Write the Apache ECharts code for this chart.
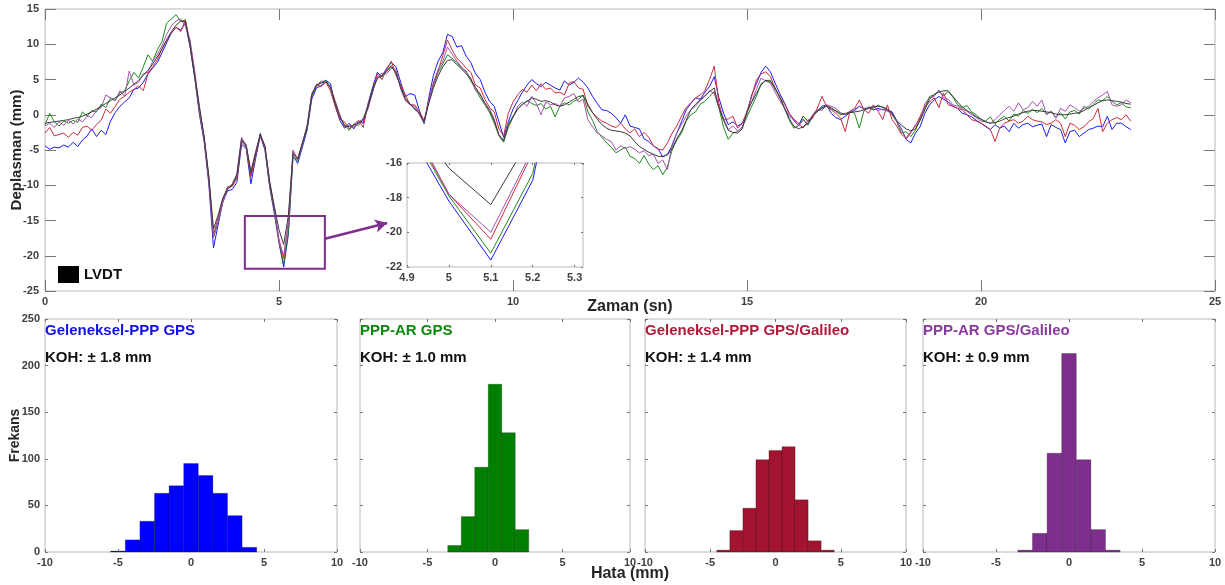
<!DOCTYPE html>
<html><head><meta charset="utf-8">
<script src="https://cdn.jsdelivr.net/npm/echarts@6/dist/echarts.min.js"></script>
<style>html,body{margin:0;padding:0;background:#fff}#c{width:1225px;height:585px}</style>
</head><body><div id="c"></div>
<script>
// ---- time series (sampling grid) ----
const timeStart = 0, timeStep = 0.1;

const lvdt = [
-1.2,-1.1,-1.0,-0.9,-0.8,-0.7,-0.5,-0.4,-0.2,0.1,
0.4,0.8,1.2,1.6,2.0,2.4,2.8,3.3,3.8,4.3,
4.9,5.6,6.3,7.2,8.2,9.3,10.6,11.8,12.7,13.3,
13.2,9.8,5.5,1.2,-3.0,-8.7,-16.2,-14.2,-11.8,-10.5,
-10.0,-8.5,-3.5,-4.5,-8.2,-5.5,-2.8,-4.5,-9.5,-13.0,
-16.3,-18.4,-14.3,-5.5,-6.3,-4.0,-1.8,2.8,4.2,4.5,
4.7,4.0,1.7,-0.2,-1.6,-1.7,-1.5,-1.2,-0.8,1.0,
3.5,5.1,5.6,6.1,6.8,6.0,3.9,2.3,1.5,0.9,
0.2,-1.0,1.6,3.8,5.5,6.8,7.7,7.8,7.1,6.5,
5.8,5.0,3.9,2.8,1.7,0.6,-0.9,-2.8,-3.7,-1.5,
-0.2,0.8,1.5,1.9,2.4,2.2,1.9,2.0,1.8,1.4,
1.2,1.4,1.8,2.2,2.6,2.7,1.5,0.3,-0.6,-1.4,
-1.9,-2.2,-2.3,-2.4,-2.6,-3.0,-3.8,-4.5,-4.9,-5.3,
-5.6,-5.9,-5.9,-5.7,-4.8,-3.4,-2.3,-0.8,0.7,1.5,
2.1,2.7,3.3,3.8,1.0,-0.8,-2.2,-2.5,-2.6,-2.0,
0.4,1.8,3.0,4.2,4.9,4.7,3.8,2.5,0.9,-0.5,
-1.6,-2.0,-1.7,-1.2,-0.2,0.5,0.9,1.2,1.0,0.5,
0.0,0.2,0.3,0.4,0.5,0.7,0.9,1.1,1.2,1.1,
0.8,0.2,-0.8,-1.5,-2.0,-2.3,-2.0,-0.8,0.7,2.2,
2.9,3.2,3.4,3.4,2.6,1.8,1.1,0.6,0.2,-0.3,
-0.6,-1.0,-1.2,-1.1,-0.9,-0.6,-0.4,-0.2,0.1,0.3,
0.5,0.6,0.6,0.5,0.4,0.3,0.1,0.0,0.0,0.1,
0.2,0.3,0.6,1.0,1.3,1.7,2.0,2.1,2.0,1.9,
1.8,1.6,1.5];

const pppGps = [
-4.4,-4.9,-4.6,-4.7,-4.3,-4.6,-3.9,-4.5,-3.6,-3.0,
-2.0,-3.1,-2.2,-2.8,-0.9,0.3,1.2,1.8,2.4,3.6,
3.8,4.6,5.8,6.6,7.4,8.8,10.2,11.6,12.4,12.0,
13.0,9.6,5.2,0.0,-3.8,-9.8,-18.9,-15.6,-12.4,-10.8,
-10.6,-9.6,-4.2,-4.8,-9.8,-6.2,-3.0,-5.0,-10.2,-14.0,
-18.2,-21.6,-17.0,-5.8,-6.9,-4.6,-2.2,2.2,3.8,4.1,
4.9,4.4,1.3,-0.8,-1.9,-1.4,-2.0,-0.9,-1.2,1.5,
3.9,6.0,5.4,6.6,7.4,6.8,4.6,2.6,3.0,2.8,
0.6,-1.3,2.4,5.6,7.6,8.8,11.4,11.1,9.6,9.8,
8.3,7.4,5.8,5.0,3.2,1.9,1.2,-1.0,-3.2,-1.0,
0.8,2.0,3.2,4.2,5.0,4.4,4.0,4.6,4.2,3.8,
3.5,4.8,4.2,4.6,5.2,4.6,3.8,2.6,1.6,0.7,
0.6,0.2,-0.4,-1.2,0.0,-1.6,-1.8,-2.0,-3.4,-3.8,
-4.4,-4.8,-6.0,-5.6,-4.4,-2.6,-1.0,0.7,1.6,2.4,
2.2,3.2,4.0,5.4,2.4,0.2,-1.4,-1.0,-1.6,-1.2,
0.2,2.8,4.4,6.0,6.9,6.1,4.5,3.0,1.7,0.2,
-0.8,-1.5,-0.2,-0.9,-0.2,0.4,1.2,1.4,0.2,-0.4,
-0.7,-0.2,0.3,0.6,1.2,0.8,1.0,0.7,0.9,0.7,
0.7,0.4,-0.9,-2.0,-3.5,-4.0,-2.6,-1.7,0.2,1.4,
2.1,2.6,2.2,1.8,1.2,0.9,0.2,0.0,-0.3,-0.8,
-1.2,-1.7,-2.1,-1.4,-1.9,-1.6,-2.4,-1.2,-1.9,-1.4,
-1.2,-1.7,-1.5,-1.3,-3.1,-1.4,-1.8,-2.1,-4.0,-2.4,
-2.2,-3.1,-2.6,-2.1,-1.9,-1.6,-1.7,-0.2,-2.1,-1.2,
-1.2,-1.7,-2.1];

const arGps = [
-1.4,0.2,-1.0,-1.6,-0.9,-1.2,-0.8,-1.1,0.4,-0.2,
0.6,0.4,1.5,1.0,2.4,2.0,3.1,3.4,4.8,6.0,
5.2,6.8,8.5,7.6,9.2,10.4,13.0,13.6,14.2,13.2,
13.5,9.8,5.4,0.4,-3.4,-9.2,-17.4,-15.2,-12.2,-10.6,
-10.0,-8.8,-3.6,-4.2,-8.6,-5.6,-2.6,-4.8,-10.0,-13.6,
-17.9,-21.2,-16.6,-5.8,-6.6,-4.2,-2.0,2.6,4.0,4.6,
4.9,3.8,1.4,-0.4,-1.4,-2.2,-1.3,-1.5,-0.5,1.2,
3.6,5.3,5.4,6.3,7.0,5.8,4.0,2.1,1.6,0.7,
0.3,-1.1,1.8,4.2,6.0,7.2,8.5,8.0,7.4,6.6,
6.2,4.8,3.6,2.4,1.4,0.3,-1.2,-3.0,-3.9,-1.8,
-0.4,0.8,1.4,2.0,1.6,1.3,1.6,0.8,1.2,-0.3,
1.2,1.7,1.4,1.9,2.2,2.8,0.4,-0.8,-2.4,-3.2,
-4.0,-4.6,-5.4,-5.0,-4.6,-5.9,-6.2,-6.9,-5.8,-7.0,
-7.8,-7.2,-8.5,-7.4,-5.0,-3.6,-2.6,-0.9,0.0,0.4,
1.5,1.9,2.6,3.3,1.0,-1.8,-3.5,-2.6,-2.4,-1.7,
-0.3,1.2,2.6,4.4,4.8,4.9,3.6,2.6,1.0,-0.7,
-1.9,-1.6,-0.6,-1.5,-0.3,0.6,1.0,1.3,0.8,0.6,
0.2,0.0,0.5,0.2,-1.9,0.6,1.1,0.9,1.4,1.0,
0.6,0.0,-1.0,-2.6,-2.4,-3.1,-2.2,-0.4,1.0,2.6,
2.8,3.4,2.7,3.3,2.5,1.4,1.0,1.3,0.4,0.0,
-0.7,-0.9,-0.3,-1.3,-0.6,-0.2,-0.9,0.1,-0.2,0.6,
0.2,0.8,0.3,0.9,0.1,0.5,-0.4,0.3,-0.6,0.4,
0.6,0.1,1.2,0.8,1.5,2.1,2.0,2.6,1.9,1.4,
1.7,1.1,1.0];

const pppGal = [
-2.6,-1.8,-3.0,-2.8,-2.6,-3.2,-2.5,-2.9,-1.8,-1.6,
-2.2,-1.4,-0.8,0.8,0.2,1.2,2.2,2.6,3.2,3.6,
4.1,3.4,5.8,6.8,7.8,9.4,10.6,11.6,12.4,11.8,
13.4,10.2,5.6,0.6,-3.4,-9.0,-17.0,-14.6,-12.0,-10.2,
-10.2,-9.0,-3.8,-4.6,-8.8,-5.8,-3.0,-4.6,-9.8,-13.4,
-17.8,-20.4,-15.4,-5.2,-6.2,-4.0,-1.6,2.9,4.3,4.0,
4.6,3.4,1.2,-0.6,-1.0,-2.0,-1.4,-0.8,-1.8,1.4,
3.2,5.8,5.0,6.4,7.6,5.6,4.2,2.8,1.4,1.4,
0.4,-0.8,2.0,4.4,6.2,8.4,10.6,9.2,8.0,7.4,
6.6,6.0,4.2,3.8,2.2,1.0,0.4,-2.0,-3.0,0.2,
1.8,2.8,3.6,3.2,4.2,3.4,4.4,3.6,3.8,3.1,
3.2,2.8,4.5,4.7,3.8,3.6,1.2,0.3,-0.4,-0.9,
-1.2,-1.6,-1.8,-1.2,-2.0,-2.6,-2.0,-3.1,-2.5,-3.2,
-4.4,-4.9,-5.0,-4.0,-2.6,-1.6,-0.2,1.0,1.7,2.4,
2.8,3.4,5.0,6.9,1.6,-0.7,-0.6,-0.2,-1.9,-1.2,
0.5,2.6,4.9,5.8,6.1,5.4,3.8,2.4,1.6,0.2,
-0.6,-1.2,-1.9,-0.8,-0.5,0.9,2.6,1.2,0.7,0.2,
-0.5,-2.4,0.5,0.9,2.1,0.7,0.2,1.4,0.5,-0.7,
1.4,-0.7,-1.6,-2.8,-3.3,-2.4,-1.6,-0.2,1.2,1.8,
2.4,1.0,3.1,1.4,1.2,0.9,0.7,0.0,-0.7,-0.9,
-1.2,-1.6,-2.1,-3.8,-1.9,-1.2,-0.9,-0.7,-1.2,-0.9,
-0.2,-0.7,-0.9,-1.0,-1.4,-1.2,-0.7,-1.2,-3.1,-1.2,
-1.5,-2.1,-1.7,-1.0,-0.5,0.9,-2.4,-1.2,-0.7,-0.4,
-0.7,0.0,-0.9];

const arGal = [
-1.6,-1.2,-1.8,-1.0,-1.5,-0.8,-1.3,-0.6,-1.0,-0.2,
-0.4,0.6,1.0,2.8,2.4,2.0,3.4,2.6,6.2,4.2,
4.6,5.8,6.0,7.6,8.6,9.8,11.4,12.6,13.3,13.6,
12.6,10.6,6.2,0.8,-3.2,-8.8,-17.4,-15.0,-12.4,-10.4,
-9.8,-8.4,-3.2,-4.4,-8.0,-5.2,-2.8,-4.4,-9.4,-13.2,
-17.8,-20.0,-15.2,-5.0,-6.4,-4.2,-1.6,3.0,4.2,4.8,
4.6,3.8,2.0,0.0,-1.8,-1.2,-1.8,-1.0,-0.6,0.8,
3.2,5.4,5.9,5.8,6.6,6.4,3.6,2.0,1.4,1.2,
0.0,-1.2,2.0,4.6,6.4,7.6,9.6,8.6,7.6,6.8,
6.0,5.2,3.4,3.0,1.4,0.8,-0.6,-3.0,-3.6,-1.2,
-0.4,1.2,1.8,1.2,2.6,1.6,0.0,1.8,1.4,1.6,
1.2,2.4,2.6,3.0,1.8,2.2,-0.7,-1.7,-2.6,-3.0,
-3.5,-3.8,-5.0,-4.4,-4.8,-4.5,-4.9,-5.4,-5.1,-5.8,
-5.6,-6.9,-6.4,-7.8,-4.2,-2.6,-1.4,-0.2,0.7,1.2,
2.0,2.6,3.4,3.0,1.0,-0.5,-2.1,-1.6,-2.3,-1.8,
0.4,1.8,3.6,5.2,4.8,4.5,3.2,2.0,1.0,-0.2,
-0.7,-1.6,-0.8,-1.3,0.0,0.8,0.6,1.4,1.2,0.9,
0.3,0.0,0.5,0.8,1.2,0.9,1.0,1.2,0.6,0.8,
0.5,0.2,-1.0,-2.1,-3.5,-2.6,-1.4,-0.8,1.6,2.4,
2.6,3.5,2.4,2.2,1.4,1.2,0.8,0.5,0.0,-0.4,
-0.9,-1.0,-1.2,-0.7,0.0,0.6,1.2,0.5,1.7,0.7,
1.0,1.9,1.2,2.1,0.0,0.5,-0.5,0.9,0.5,1.4,
1.0,0.5,0.9,1.2,1.9,2.4,2.8,3.3,1.4,1.2,
1.4,2.1,1.7];

// ---- histograms (bin centers, bin width, counts) ----
const binWidth = 1;
const histCentersA = [-5,-4,-3,-2,-1,0,1,2,3,4];
const histCountsA  = [1,13,33,63,71,95,82,63,39,5];
const histCentersB = [-3,-2,-1,0,1,2];
const histCountsB  = [7,38,91,180,128,24];
const histCentersC = [-4,-3,-2,-1,0,1,2,3,4];
const histCountsC  = [2,23,47,99,109,113,56,12,2];
const histCentersD = [-3,-2,-1,0,1,2,3];
const histCountsD  = [2,20,106,213,99,24,2];

const histTitles = ['Geleneksel-PPP GPS','PPP-AR GPS','Geleneksel-PPP GPS/Galileo','PPP-AR GPS/Galileo'];
const histKOH = ['KOH: \u00b1 1.8 mm','KOH: \u00b1 1.0 mm','KOH: \u00b1 1.4 mm','KOH: \u00b1 0.9 mm'];

// annotation (data coords): zoom box and arrow
const zoomBox = [[4.27,-14.35],[5.98,-21.85]];
const arrowLine = [[5.98,-17.6],[7.31,-15.35]];

const FONT = 'Liberation Sans, Arial, sans-serif';
const toPairs = arr => arr.map((v,i)=>[+(timeStart + i*timeStep).toFixed(2), v]);

const lineColors = {gps:'#1a1aee', ar:'#1f8a1f', gal:'#cc2b40', argal:'#a452b0', lvdt:'#3a3a3a'};
const histColors = ['#0000ff','#007f00','#a2142f','#7e2f8e'];
const titleColors = ['#1010f0','#0d8a0d','#b01a38','#8a3a9e'];

const mainGrid = {left:45, top:9, width:1170, height:282};
const insetGrid = {left:407, top:163, width:176, height:104};
const histGrids = [
  {left:45, top:319, width:292, height:233},
  {left:360, top:319, width:270, height:233},
  {left:645, top:319, width:261, height:233},
  {left:923, top:319, width:292, height:233}
];

const labelStyle = {fontSize:11, fontWeight:'bold', color:'#404040', fontFamily:FONT};
function axisX(gridIndex, min, max, interval, tickLen, extra){
  return Object.assign({type:'value', gridIndex, min, max, interval,
    axisLine:{show:false, onZero:false}, splitLine:{show:false}, nameMoveOverlap:false,
    axisTick:{show:true, inside:true, length:tickLen, lineStyle:{color:'#777'}},
    axisLabel:Object.assign({margin:5}, labelStyle)}, extra||{});
}
function mirror(a, pos){
  return Object.assign({}, a, {position:pos, axisLabel:{show:false}, name:''});
}

const grids = [mainGrid, insetGrid].concat(histGrids).map((g,i)=>Object.assign({
  show:true, borderColor:'#b8b8b8', borderWidth:1, backgroundColor:'#fff', outerBoundsMode:'none', containLabel:false}, g));

const xAxes = [], yAxes = [];
// main
const mx = axisX(0, 0, 25, 5, 11, {name:'Zaman (sn)', nameLocation:'middle', nameGap:8,
  nameTextStyle:{fontSize:16, fontWeight:'bold', color:'#262626', fontFamily:FONT}});
const my = axisX(0, -25, 15, 5, 11, {name:'Deplasman (mm)', nameLocation:'middle', nameGap:21,
  nameTextStyle:{fontSize:15, fontWeight:'bold', color:'#262626', fontFamily:FONT}});
my.axisLabel = Object.assign({margin:6}, labelStyle);
xAxes.push(mx, mirror(mx,'top'));
yAxes.push(my, mirror(my,'right'));
// inset
const ix = axisX(1, 4.9, 5.32, 0.1, 2);
ix.axisLabel = Object.assign({margin:5, showMaxLabel:false}, labelStyle);
const iy = axisX(1, -22, -16, 2, 2);
iy.axisLabel = Object.assign({margin:5}, labelStyle);
xAxes.push(ix, mirror(ix,'top'));
yAxes.push(iy, mirror(iy,'right'));
// histograms
for(let k=0;k<4;k++){
  const hx = axisX(2+k, -10, 10, 5, 3);
  const hy = axisX(2+k, 0, 250, 50, 3, k===0 ? {name:'Frekans', nameLocation:'middle', nameGap:23,
    nameTextStyle:{fontSize:14, fontWeight:'bold', color:'#262626', fontFamily:FONT}} : {});
  if(k>0) hy.axisLabel = {show:false};
  xAxes.push(hx); yAxes.push(hy);
}
for(let k=0;k<4;k++){
  xAxes.push(mirror(xAxes[4+k],'top'));
  yAxes.push(mirror(yAxes[4+k],'right'));
}

const series = [];
const lineDefs = [
  ['Geleneksel-PPP GPS', pppGps, lineColors.gps],
  ['PPP-AR GPS', arGps, lineColors.ar],
  ['Geleneksel-PPP GPS/Galileo', pppGal, lineColors.gal],
  ['PPP-AR GPS/Galileo', arGal, lineColors.argal],
  ['LVDT', lvdt, lineColors.lvdt]
];
lineDefs.forEach(([name, arr, col])=>{
  series.push({type:'line', name, data:toPairs(arr), xAxisIndex:0, yAxisIndex:0,
    symbol:'none', showSymbol:false, lineStyle:{color:col, width:1}, itemStyle:{color:col}, silent:true});
  series.push({type:'line', name:name+' (zoom)', data:toPairs(arr), xAxisIndex:2, yAxisIndex:2, clip:true,
    symbol:'none', showSymbol:false, lineStyle:{color:col, width:1}, itemStyle:{color:col}, silent:true});
});
// zoom box + arrow
series.push({type:'line', name:'box', data:[], xAxisIndex:0, yAxisIndex:0, silent:true,
  markArea:{silent:true, itemStyle:{color:'rgba(0,0,0,0)', borderColor:'#7e2f8e', borderWidth:2},
    data:[[{coord:zoomBox[0]},{coord:zoomBox[1]}]]},
  markLine:{silent:true, symbol:['none','arrow'], symbolSize:[10,12], label:{show:false},
    lineStyle:{color:'#7e2f8e', width:2.5, type:'solid'},
    data:[[{coord:arrowLine[0]},{coord:arrowLine[1]}]]}});

const histSets = [[histCentersA,histCountsA],[histCentersB,histCountsB],[histCentersC,histCountsC],[histCentersD,histCountsD]];
histSets.forEach(([cs,ns],k)=>{
  series.push({type:'custom', name:'hist'+k, xAxisIndex:4+k, yAxisIndex:4+k, silent:true,
    data: cs.map((c,i)=>[c, ns[i]]),
    encode:{x:0, y:1},
    renderItem:(params, api)=>{
      const c = api.value(0), n = api.value(1);
      const p0 = api.coord([c-binWidth/2, n]), p1 = api.coord([c+binWidth/2, 0]);
      return {type:'rect', shape:{x:p0[0], y:p0[1], width:p1[0]-p0[0], height:p1[1]-p0[1]},
        style:{fill:histColors[k], stroke:'rgba(0,0,0,0.35)', lineWidth:0.7}};
    }});
});

const titles = [];
histTitles.forEach((t,k)=>{
  titles.push({text:t, left:histGrids[k].left, top:323, padding:0,
    textStyle:{color:titleColors[k], fontSize:15, fontWeight:'bold', fontFamily:FONT}});
  titles.push({text:histKOH[k], left:histGrids[k].left, top:350, padding:0,
    textStyle:{color:'#111', fontSize:15, fontWeight:'bold', fontFamily:FONT}});
});
titles.push({text:'Hata (mm)', left:630, top:566, padding:0, textAlign:'center',
  textStyle:{color:'#262626', fontSize:16, fontWeight:'bold', fontFamily:FONT}});

const chart = echarts.init(document.getElementById('c'), null, {renderer:'canvas'});
chart.setOption({
  animation:false,
  backgroundColor:'#fff',
  textStyle:{fontFamily:FONT},
  title:titles,
  legend:{data:[{name:'LVDT', icon:'rect', itemStyle:{color:'#000', borderWidth:0}}],
    left:58, top:266, itemWidth:21, itemHeight:17, itemGap:4, padding:0, selectedMode:false,
    textStyle:{fontSize:15, fontWeight:'bold', color:'#111', fontFamily:FONT}},
  grid:grids,
  xAxis:xAxes,
  yAxis:yAxes,
  series
});
</script>
</body></html>
